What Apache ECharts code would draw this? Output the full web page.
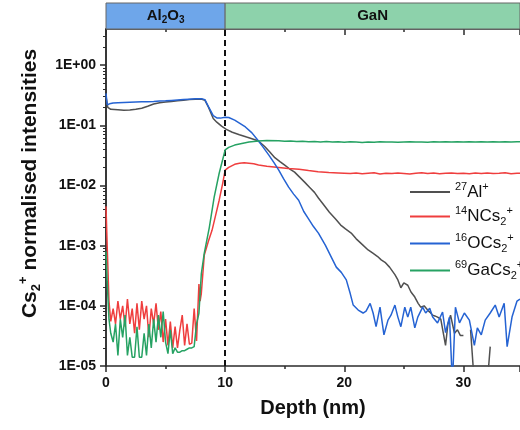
<!DOCTYPE html>
<html><head><meta charset="utf-8">
<script src="https://cdn.jsdelivr.net/npm/echarts@6/dist/echarts.min.js"></script>
<style>html,body{margin:0;padding:0;background:#fff}#c{width:520px;height:430px}</style>
</head><body><div id="c"></div>
<script>
// ---------- data ----------
const depthMin = 0, depthMax = 34.75, interfaceDepth = 10;
const yMin = 1e-5, yMax = 4;
const majorTicks = [1e-5, 1e-4, 1e-3, 1e-2, 1e-1, 1];
const xTickLabels = ['0', '10', '20', '30'];

const bandLabels = ['{m|Al}{s|2}{m|O}{s|3}', '{m|GaN}'];
const bandStart = [0, 10];
const bandEnd = [10, 34.75];
const bandColors = ['#6ea6ea', '#8dd2ab'];

const seriesNames = ['Al', 'N', 'O', 'Ga'];
const legendLabels = ['{sup|27}{m|Al}{sup|+}', '{sup|14}{m|NCs}{sub|2}{sup|+}', '{sup|16}{m|OCs}{sub|2}{sup|+}', '{sup|69}{m|GaCs}{sub|2}{sup|+}'];
const seriesColors = ['#505050', '#ef3e3e', '#2563d3', '#26a263'];

const alDepth = [0, 0.15, 0.4, 1.0, 1.5, 2.0, 2.5, 3.0, 3.5, 4.0, 4.5, 5.0, 5.5, 6.0, 6.5, 7.0, 7.5, 8.0, 8.3, 8.6, 9.0, 9.3, 9.7, 10.1, 10.6, 11.2, 11.8, 12.25, 12.8, 13.3, 13.75, 14.17, 14.6, 15.0, 15.4, 15.83, 16.25, 16.67, 17.1, 17.5, 17.83, 18.3, 18.75, 19.25, 19.7, 20.1, 20.58, 21.0, 21.5, 22.0, 22.4, 22.8, 23.1, 23.42, 23.8, 24.25, 24.5, 24.75, 25.0, 25.33, 25.6, 25.92, 26.2, 26.42, 26.7, 27.0, 27.2, 27.42, 27.6, 27.83, 28.1, 28.5, 28.7, 28.92, 29.25, 29.5, 29.75, 30.0, 30.2, 30.6, 30.92, 31.3, 31.5, 32.0, 32.25];
const alValue = [0.30, 0.2, 0.185, 0.182, 0.178, 0.18, 0.185, 0.193, 0.208, 0.226, 0.238, 0.245, 0.25, 0.256, 0.262, 0.268, 0.272, 0.275, 0.262, 0.2, 0.13, 0.113, 0.097, 0.086, 0.077, 0.07, 0.064, 0.06, 0.055, 0.045, 0.036, 0.029, 0.025, 0.0218, 0.019, 0.0167, 0.0138, 0.0114, 0.0093, 0.0077, 0.0062, 0.0047, 0.0036, 0.0028, 0.0022, 0.0019, 0.00162, 0.0013, 0.00105, 0.00085, 0.00075, 0.00066, 0.00058, 0.00053, 0.00044, 0.00033, 0.00027, 0.0002, 0.00024, 0.00022, 0.00017, 0.00014, 0.00011, 0.000095, 0.0001, 0.000085, 0.000078, 0.00007, 0.000068, 0.000065, 0.00006, 0.000022, 0.00005, 0.00007, 0.000035, 0.00004, 0.000032, 0.000032, null, 0.00004, 0.000005, 0.000005, null, 0.000005, 0.000021];

const nDepth = [0, 0.1, 0.25, 0.4, 0.6, 0.8, 1.0, 1.2, 1.4, 1.6, 1.8, 2.0, 2.2, 2.4, 2.6, 2.8, 3.0, 3.2, 3.4, 3.6, 3.8, 4.0, 4.2, 4.4, 4.6, 4.8, 5.0, 5.2, 5.4, 5.6, 5.8, 6.0, 6.2, 6.4, 6.6, 6.8, 7.0, 7.2, 7.4, 7.6, 7.8, 7.9, 8.0, 8.25, 8.6, 8.9, 9.2, 9.5, 9.8, 10.0, 10.3, 10.8, 11.2, 11.6, 12.0, 12.4, 12.8, 13.5, 14.5, 15.3, 16.2, 17.0, 17.8, 18.7, 19.5, 20.0, 20.5, 21.0, 21.5, 22.0, 22.5, 23.0, 23.5, 24.0, 24.5, 25.0, 25.5, 26.0, 26.5, 27.0, 27.5, 28.0, 28.5, 29.0, 29.5, 30.0, 30.5, 31.0, 31.5, 32.0, 32.5, 33.0, 33.5, 34.0, 34.5, 34.75];
const nValue = [4.5e-3, 1e-3, 1.2e-4, 5.5e-5, 9e-5, 5e-5, 1.2e-4, 6e-5, 1.0e-4, 4.5e-5, 1.3e-4, 5e-5, 9e-5, 3.5e-5, 1.1e-4, 4e-5, 1.2e-4, 6e-5, 1.0e-4, 3e-5, 9e-5, 5e-5, 1.1e-4, 4e-5, 8e-5, 2.5e-5, 6e-5, 2.2e-5, 5.5e-5, 2e-5, 4.5e-5, 2e-5, 4e-5, 7e-5, 2.2e-5, 5e-5, 2.3e-5, 2.4e-5, 9e-5, 2.6e-5, 2.3e-4, 1.2e-4, 1.6e-4, 7e-4, 1.2e-3, 1.8e-3, 3.2e-3, 5.7e-3, 1.1e-2, 1.8e-2, 2.0e-2, 2.25e-2, 2.35e-2, 2.4e-2, 2.35e-2, 2.3e-2, 2.2e-2, 2.1e-2, 2.0e-2, 1.92e-2, 1.87e-2, 1.78e-2, 1.7e-2, 1.65e-2, 1.62e-2, 1.6e-2, 1.58e-2, 1.62e-2, 1.57e-2, 1.6e-2, 1.63e-2, 1.56e-2, 1.6e-2, 1.58e-2, 1.62e-2, 1.59e-2, 1.55e-2, 1.6e-2, 1.63e-2, 1.58e-2, 1.61e-2, 1.57e-2, 1.6e-2, 1.62e-2, 1.58e-2, 1.6e-2, 1.57e-2, 1.61e-2, 1.59e-2, 1.62e-2, 1.58e-2, 1.6e-2, 1.63e-2, 1.57e-2, 1.6e-2, 1.6e-2];

const oDepth = [0, 0.1, 0.3, 0.6, 1.0, 1.5, 2.0, 2.5, 3.0, 3.5, 4.0, 4.5, 5.0, 5.5, 6.0, 6.5, 7.0, 7.5, 8.0, 8.3, 8.6, 9.0, 9.3, 9.6, 10.0, 10.3, 10.8, 11.2, 11.7, 12.25, 12.8, 13.2, 13.67, 14.1, 14.5, 14.9, 15.33, 15.75, 16.17, 16.6, 17.0, 17.4, 17.83, 18.42, 18.92, 19.33, 19.75, 20.17, 20.5, 20.75, 21.17, 21.58, 21.83, 22.17, 22.42, 22.67, 23.0, 23.33, 23.67, 23.92, 24.25, 24.5, 24.75, 25.08, 25.33, 25.58, 25.92, 26.17, 26.58, 26.83, 27.17, 27.42, 27.83, 28.25, 28.5, 28.83, 29.08, 29.33, 29.67, 30.08, 30.5, 30.92, 31.17, 31.5, 31.83, 32.25, 32.67, 33.0, 33.42, 33.67, 34.08, 34.5, 34.75];
const oValue = [0.34, 0.22, 0.228, 0.235, 0.238, 0.24, 0.242, 0.244, 0.246, 0.248, 0.25, 0.253, 0.256, 0.26, 0.264, 0.268, 0.272, 0.276, 0.278, 0.268, 0.205, 0.145, 0.133, 0.132, 0.137, 0.135, 0.122, 0.109, 0.094, 0.075, 0.055, 0.043, 0.032, 0.024, 0.018, 0.013, 0.0094, 0.0072, 0.0057, 0.0037, 0.0028, 0.0021, 0.00162, 0.00101, 0.00064, 0.00044, 0.00036, 0.00027, 0.00016, 0.000103, 0.000085, 0.000076, 0.000082, 0.00011, 0.000076, 0.000045, 0.000095, 0.000033, 0.000058, 0.00007, 0.000103, 0.000065, 0.000045, 0.000095, 0.000065, 0.000095, 0.000043, 0.000065, 0.000095, 0.000076, 0.000091, 0.000065, 0.000052, 0.000079, 0.000036, 0.000065, 0.000005, 0.000095, 0.000052, 0.000076, 0.000058, 0.000022, 0.000043, 0.000033, 0.000058, 0.000076, 0.000103, 0.000065, 0.00011, 0.000021, 0.000065, 0.00012, 0.00013];

const gaDepth = [0, 0.1, 0.25, 0.4, 0.6, 0.8, 1.0, 1.2, 1.4, 1.6, 1.8, 2.0, 2.2, 2.4, 2.6, 2.8, 3.0, 3.2, 3.4, 3.6, 3.8, 4.0, 4.2, 4.4, 4.6, 4.8, 5.0, 5.2, 5.4, 5.6, 5.8, 6.0, 6.2, 6.4, 6.6, 6.8, 7.0, 7.2, 7.4, 7.6, 7.8, 8.0, 8.25, 8.67, 9.08, 9.5, 10.0, 10.3, 10.8, 11.2, 11.6, 12.0, 12.8, 13.5, 14.5, 15.0, 15.5, 16.0, 16.5, 17.0, 17.5, 18.0, 18.5, 19.0, 19.5, 20.0, 20.5, 21.0, 21.5, 22.0, 22.5, 23.0, 23.5, 24.0, 24.5, 25.0, 25.5, 26.0, 26.5, 27.0, 27.5, 28.0, 28.5, 29.0, 29.5, 30.0, 30.5, 31.0, 31.5, 32.0, 32.5, 33.0, 33.5, 34.0, 34.5, 34.75];
const gaValue = [8e-4, 2.5e-4, 6e-5, 3.5e-5, 2.5e-5, 5e-5, 1.5e-5, 6e-5, 3e-5, 7e-5, 1.5e-5, 3e-5, 1.4e-5, 1.4e-5, 4.5e-5, 1.4e-5, 1.4e-5, 3.5e-5, 1.5e-5, 5e-5, 2e-5, 6e-5, 2.5e-5, 7e-5, 3e-5, 8e-5, 2.5e-5, 1.6e-5, 4e-5, 1.6e-5, 2e-5, 1.7e-5, 1.7e-5, 1.8e-5, 1.8e-5, 1.9e-5, 2e-5, 2e-5, 2.1e-5, 5e-5, 7.5e-5, 3.4e-4, 7.5e-4, 2e-3, 6.4e-3, 1.6e-2, 3.9e-2, 4.3e-2, 4.7e-2, 4.9e-2, 5.1e-2, 5.3e-2, 5.5e-2, 5.6e-2, 5.55e-2, 5.45e-2, 5.5e-2, 5.4e-2, 5.45e-2, 5.35e-2, 5.4e-2, 5.3e-2, 5.38e-2, 5.3e-2, 5.35e-2, 5.25e-2, 5.32e-2, 5.28e-2, 5.2e-2, 5.3e-2, 5.25e-2, 5.33e-2, 5.27e-2, 5.3e-2, 5.22e-2, 5.3e-2, 5.35e-2, 5.28e-2, 5.3e-2, 5.25e-2, 5.33e-2, 5.3e-2, 5.35e-2, 5.28e-2, 5.32e-2, 5.3e-2, 5.36e-2, 5.3e-2, 5.33e-2, 5.28e-2, 5.35e-2, 5.3e-2, 5.33e-2, 5.3e-2, 5.35e-2, 5.32e-2];

const seriesDepth = [alDepth, nDepth, oDepth, gaDepth];
const seriesValue = [alValue, nValue, oValue, gaValue];

// ---------- chart ----------
const FONT = "'Liberation Sans', Arial, sans-serif";
const minorTicks = [];
for (let e = -5; e <= 0; e++) for (let k = 2; k <= 9; k++) { const v = k * Math.pow(10, e); if (v < yMax) minorTicks.push(v); }

function expLabel(v) {
  const e = Math.round(Math.log10(v));
  const a = Math.abs(e);
  return '1E' + (e < 0 ? '-' : '+') + (a < 10 ? '0' : '') + a;
}

const chart = echarts.init(document.getElementById('c'), null, { renderer: 'canvas' });
const axisLine = { show: true, lineStyle: { color: '#2b2b2b', width: 1.5 } };
const tickStyle = { color: '#2b2b2b', width: 1.5 };

const series = seriesNames.map((name, i) => ({
  name, type: 'line', xAxisIndex: 0, yAxisIndex: 0,
  symbol: 'none', connectNulls: false, animation: false,
  lineStyle: { color: seriesColors[i], width: 1.5 },
  itemStyle: { color: seriesColors[i] },
  data: seriesDepth[i].map((d, j) => [d, seriesValue[i][j]]),
  z: 3 + i
}));
series[0].markLine = {
  silent: true, symbol: ['none', 'none'], label: { show: false },
  lineStyle: { color: '#111', width: 2, type: [6, 4] },
  data: [{ xAxis: interfaceDepth }], animation: false
};
series.push({
  type: 'custom', xAxisIndex: 2, yAxisIndex: 3, silent: true, clip: false,
  data: bandStart.map((s, i) => [s, bandEnd[i], i]),
  renderItem(params, api) {
    const s = api.value(0), e = api.value(1), i = api.value(2);
    const p0 = api.coord([s, 1]), p1 = api.coord([e, 0]);
    return {
      type: 'rect',
      shape: { x: p0[0], y: p0[1], width: p1[0] - p0[0], height: p1[1] - p0[1] },
      style: { fill: bandColors[i], stroke: '#666', lineWidth: 1 },
      textContent: {
        style: {
          text: bandLabels[i], fill: '#111',
          rich: {
            m: { fontSize: 15, fontWeight: 'bold', fontFamily: FONT, fill: '#111' },
            s: { fontSize: 10, fontWeight: 'bold', fontFamily: FONT, fill: '#111', padding: [9, 0, 0, 0] }
          }
        }
      },
      textConfig: { position: 'inside' }
    };
  }
});

chart.setOption({
  animation: false,
  grid: [
    { left: 106, top: 29, width: 417, height: 337 },
    { left: 106, top: 3, width: 417, height: 26 }
  ],
  legend: {
    data: seriesNames, orient: 'vertical', left: 405, top: 176,
    icon: 'rect', itemWidth: 40, itemHeight: 2, itemGap: 5,
    formatter: name => legendLabels[seriesNames.indexOf(name)],
    textStyle: {
      color: '#111', fontFamily: FONT, fontSize: 17,
      rich: {
        m: { fontSize: 17, fontFamily: FONT, color: '#111' },
        sup: { fontSize: 11, fontFamily: FONT, color: '#111', padding: [0, 0, 11, 0] },
        sub: { fontSize: 11, fontFamily: FONT, color: '#111', padding: [11, 0, 0, 0] }
      }
    }
  },
  xAxis: [
    {
      gridIndex: 0, type: 'value', position: 'bottom', min: depthMin, max: depthMax, interval: 10,
      name: 'Depth (nm)', nameLocation: 'middle', nameGap: 32,
      nameTextStyle: { fontSize: 20, fontWeight: 'bold', fontFamily: FONT, color: '#111' },
      axisLine, axisTick: { show: true, length: 6, lineStyle: tickStyle },
      minorTick: { show: true, splitNumber: 2, length: 3, lineStyle: tickStyle },
      axisLabel: {
        fontSize: 14, fontWeight: 'bold', fontFamily: FONT, color: '#111', margin: 10, showMaxLabel: false,
        formatter: v => { const k = xTickLabels.indexOf(String(v)); return k >= 0 ? xTickLabels[k] : ''; }
      },
      splitLine: { show: false }
    },
    {
      gridIndex: 0, type: 'value', position: 'top', min: depthMin, max: depthMax, interval: 10,
      axisLine, axisTick: { show: true, inside: true, length: 6, lineStyle: tickStyle },
      minorTick: { show: true, splitNumber: 2, length: 3, lineStyle: tickStyle },
      axisLabel: { show: false }, splitLine: { show: false }
    },
    { gridIndex: 1, type: 'value', min: depthMin, max: depthMax, show: false }
  ],
  yAxis: [
    {
      gridIndex: 0, type: 'log', logBase: 10, position: 'left', min: yMin, max: yMax,
      name: '{m|Cs}{sub|2}{sup|+}{m| normalised intensities}', nameLocation: 'middle', nameGap: 63,
      nameTextStyle: {
        fontFamily: FONT, color: '#111', padding: [0, 0, 0, 28],
        rich: {
          m: { fontSize: 21, fontWeight: 'bold', fontFamily: FONT, color: '#111' },
          sub: { fontSize: 13, fontWeight: 'bold', fontFamily: FONT, color: '#111', padding: [13, 0, 0, 0] },
          sup: { fontSize: 13, fontWeight: 'bold', fontFamily: FONT, color: '#111', padding: [0, 0, 13, 0] }
        }
      },
      axisLine, axisTick: { show: true, length: 6, lineStyle: tickStyle, customValues: majorTicks },
      axisLabel: {
        customValues: majorTicks, formatter: v => expLabel(v),
        fontSize: 14, fontWeight: 'bold', fontFamily: FONT, color: '#111', margin: 10
      },
      splitLine: { show: false }
    },
    {
      gridIndex: 0, type: 'log', logBase: 10, position: 'right', min: yMin, max: yMax,
      axisLine, axisTick: { show: true, inside: true, length: 6, lineStyle: tickStyle, customValues: majorTicks },
      axisLabel: { show: false }, splitLine: { show: false }
    },
    {
      gridIndex: 0, type: 'log', logBase: 10, position: 'left', min: yMin, max: yMax,
      axisLine: { show: false },
      axisTick: { show: true, length: 3, lineStyle: { color: '#2b2b2b', width: 1 }, customValues: minorTicks },
      axisLabel: { show: false }, splitLine: { show: false }
    },
    { gridIndex: 1, type: 'value', min: 0, max: 1, show: false }
  ],
  series
});
</script>
</body></html>
